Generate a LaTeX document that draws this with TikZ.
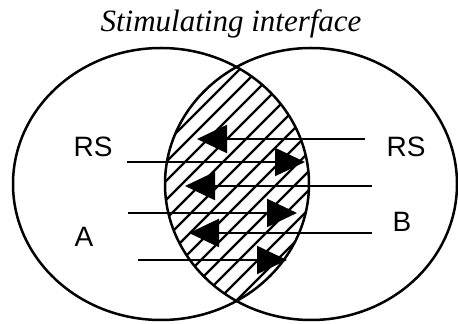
\documentclass[tikz,border=0pt]{standalone}
\usepackage{fontspec}
\setmainfont{Liberation Serif}
\setsansfont{Liberation Sans}
\usetikzlibrary{arrows.meta}
\tikzset{
  cellwall/.style={line width=2.5pt},
  hatchline/.style={line width=2.2pt},
  signal/.style={line width=2.2pt,-{Triangle[length=30pt,width=28pt]}},
  celllabel/.style={font=\sffamily\fontsize{28}{30}\selectfont,anchor=base,inner sep=0pt},
}
\begin{document}
\begin{tikzpicture}[x=1pt,y=1pt]
  \useasboundingbox (0,0) rectangle (458,324);
  \begin{scope}
    \clip (161,140) ellipse (148 and 136);
    \clip (311,140) ellipse (146 and 136);
    \foreach \c in {-110,-91,...,310}
      \draw[hatchline] (\c,0) -- ++(330,330);
  \end{scope}
  \draw[cellwall] (161,140) ellipse (148 and 136);
  \draw[cellwall] (311,140) ellipse (146 and 136);
  \node[font=\itshape\fontsize{31}{33}\selectfont,anchor=base,inner sep=0pt] (title) at (231,292) {Stimulating interface};
  \node[celllabel] (rsA) at (93,167) {RS};
  \node[celllabel] (rsB) at (406,167) {RS};
  \node[celllabel] (cellA) at (84,77) {A};
  \node[celllabel] (cellB) at (402,92) {B};
  \coordinate (fromA1) at (127,162);
  \coordinate (toB1) at (305,162);
  \coordinate (fromA2) at (128,111);
  \coordinate (toB2) at (297,111);
  \coordinate (fromA3) at (138,64);
  \coordinate (toB3) at (287,64);
  \coordinate (fromB1) at (365,185);
  \coordinate (toA1) at (197,185);
  \coordinate (fromB2) at (372,138);
  \coordinate (toA2) at (185,138);
  \coordinate (fromB3) at (372,91);
  \coordinate (toA3) at (189,91);
  \draw[signal] (fromA1) -- (toB1);
  \draw[signal] (fromA2) -- (toB2);
  \draw[signal] (fromA3) -- (toB3);
  \draw[signal] (fromB1) -- (toA1);
  \draw[signal] (fromB2) -- (toA2);
  \draw[signal] (fromB3) -- (toA3);
\end{tikzpicture}
\end{document}
